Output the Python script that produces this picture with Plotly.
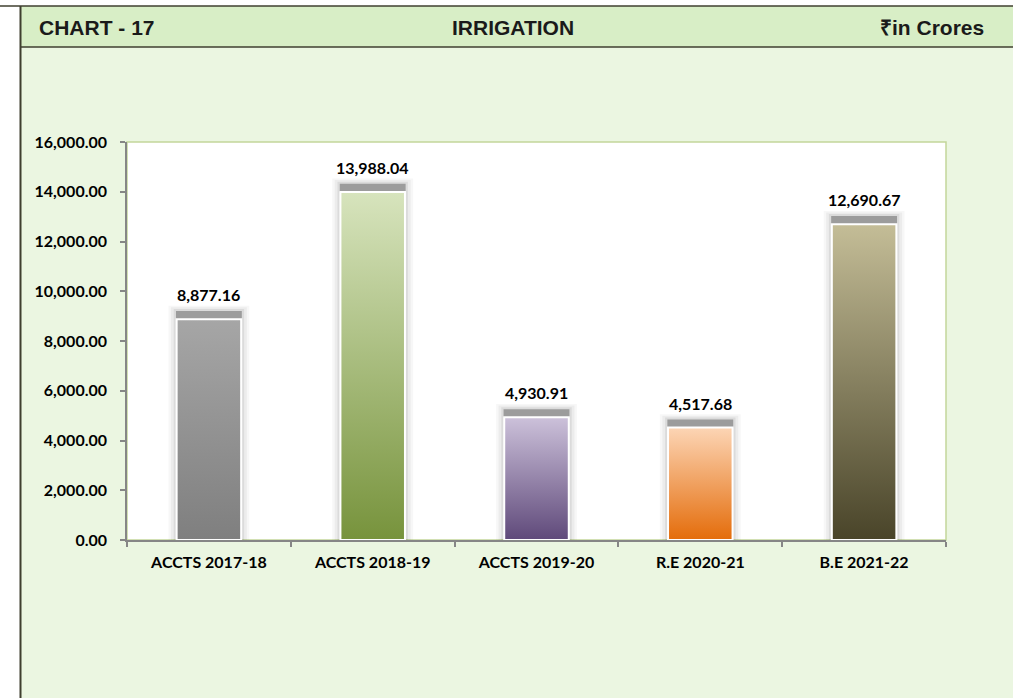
import plotly.graph_objects as go

categories = ["ACCTS 2017-18", "ACCTS 2018-19", "ACCTS 2019-20", "R.E 2020-21", "B.E 2021-22"]
values = [8877.16, 13988.04, 4930.91, 4517.68, 12690.67]
top_colors = ["#A6A6A6", "#D7E4BD", "#CCC1DA", "#FCD5B5", "#C4BD97"]
bottom_colors = ["#7F7F7F", "#77933C", "#5F497A", "#E46C0A", "#494429"]
y_ticks = [0, 2000, 4000, 6000, 8000, 10000, 12000, 14000, 16000]

W, H = 1013, 698
def px(x):
    return x / W
def py(y):
    return 1 - y / H

fig = go.Figure()

hw = 0.197          # half bar width (category units)
band = 330          # grey shadow band above each bar (data units)

for i, (v, tc, bc) in enumerate(zip(values, top_colors, bottom_colors)):
    # soft glow around the bar
    for ext, extra, a in [(0.05, 540, 0.03), (0.035, 480, 0.045), (0.018, 410, 0.07)]:
        fig.add_trace(go.Scatter(
            x=[i - hw - ext, i + hw + ext, i + hw + ext, i - hw - ext, i - hw - ext],
            y=[0, 0, v + extra, v + extra, 0],
            fill="toself", mode="lines", line=dict(width=0),
            fillcolor=f"rgba(0,0,0,{a})", hoverinfo="skip", showlegend=False))
    # grey band on top
    fig.add_trace(go.Scatter(
        x=[i - hw - 0.004, i + hw + 0.004, i + hw + 0.004, i - hw - 0.004, i - hw - 0.004],
        y=[v, v, v + band, v + band, v],
        fill="toself", mode="lines", line=dict(width=0),
        fillcolor="#9C9C9C", hoverinfo="skip", showlegend=False))
    # bar with vertical gradient
    fig.add_trace(go.Scatter(
        x=[i - hw, i + hw, i + hw, i - hw, i - hw],
        y=[0, 0, v, v, 0],
        fill="toself", mode="lines", line=dict(width=2, color="white"),
        fillgradient=dict(type="vertical", colorscale=[[0, bc], [1, tc]]),
        name=categories[i], showlegend=False))
    fig.add_annotation(x=i, y=v, text=f"{v:,.2f}", showarrow=False,
                       yanchor="bottom", yshift=13,
                       font=dict(family="Lato", size=16, color="black", weight="bold"))

shapes = [
    dict(type="rect", xref="paper", yref="paper", x0=px(20), x1=px(1013), y0=-0.01, y1=py(47),
         fillcolor="#EBF6E1", line=dict(width=0), layer="below"),
    dict(type="rect", xref="paper", yref="paper", x0=px(20), x1=px(1013), y0=py(47), y1=py(6),
         fillcolor="#D8EEC6", line=dict(width=0), layer="below"),
    dict(type="rect", xref="paper", yref="paper", x0=px(127), x1=px(946), y0=py(540), y1=py(142),
         fillcolor="white", line=dict(color="#C3D69B", width=1.5), layer="below"),
    dict(type="line", xref="paper", yref="paper", x0=0, x1=1, y0=py(6), y1=py(6),
         line=dict(color="#3F3F2F", width=1.5)),
    dict(type="line", xref="paper", yref="paper", x0=px(20), x1=1, y0=py(47), y1=py(47),
         line=dict(color="#3F3F2F", width=1.5)),
    dict(type="line", xref="paper", yref="paper", x0=px(20.5), x1=px(20.5), y0=-0.01, y1=py(6),
         line=dict(color="#3F3F2F", width=2)),
]

hdr_font = dict(family="Liberation Sans", size=21, color="#1A1A1A", weight="bold")
fig.add_annotation(xref="paper", yref="paper", x=px(37), y=py(27), xanchor="left", yanchor="middle",
                   text="CHART - 17", showarrow=False, font=hdr_font)
fig.add_annotation(xref="paper", yref="paper", x=px(513), y=py(27), xanchor="center", yanchor="middle",
                   text="IRRIGATION", showarrow=False, font=hdr_font)
fig.add_annotation(xref="paper", yref="paper", x=px(986), y=py(27), xanchor="right", yanchor="middle",
                   text="₹in Crores", showarrow=False, font=hdr_font)

fig.update_layout(
    width=W, height=H, margin=dict(l=0, r=0, t=0, b=0, pad=0, autoexpand=False),
    paper_bgcolor="white", plot_bgcolor="rgba(0,0,0,0)",
    shapes=shapes, showlegend=False,
    xaxis=dict(domain=[px(127), px(946)], range=[-0.5, 4.5],
               tickvals=list(range(len(categories))), ticktext=categories,
               ticks="", showgrid=False, zeroline=False, automargin=False,
               showline=True, linecolor="#868686", linewidth=1.5,
               tickfont=dict(family="Lato", size=16, color="black", weight="bold"),
               ticklabelstandoff=7,
               minor=dict(tickvals=[-0.5, 0.5, 1.5, 2.5, 3.5, 4.5], ticks="outside",
                          ticklen=5, tickcolor="#868686", tickwidth=1.5),
               fixedrange=True),
    yaxis=dict(domain=[py(540), py(142)], range=[0, 16000],
               tickvals=y_ticks, tickformat=",.2f", automargin=False,
               ticks="outside", ticklen=5, tickcolor="#868686", tickwidth=1.5,
               showgrid=False, zeroline=False,
               showline=True, linecolor="#868686", linewidth=1.5,
               tickfont=dict(family="Lato", size=16, color="black", weight="bold"),
               ticklabelstandoff=10, fixedrange=True),
)

post = """
document.documentElement.style.margin = '0';
document.body.style.margin = '0';
document.body.style.padding = '0';
document.documentElement.style.overflow = 'hidden';
document.body.style.overflow = 'hidden';
"""

fig.write_html("out.html", post_script=post, config={"displayModeBar": False})
